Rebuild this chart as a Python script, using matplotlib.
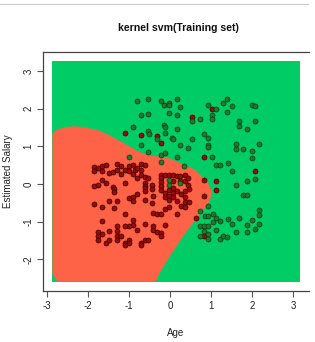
import matplotlib
matplotlib.use("Agg")
import matplotlib.pyplot as plt
from matplotlib.lines import Line2D

# ---------------- data ----------------
title = "kernel svm(Training set)"
x_label = "Age"
y_label = "Estimated Salary"
x_ticks = [-3, -2, -1, 0, 1, 2, 3]
y_ticks = [-2, -1, 0, 1, 2, 3]

# extent of the prediction grid
grid_x = [-2.87, 3.16]
grid_y = [-2.59, 3.27]

# boundary of the region predicted as class 0 (red)
boundary_x = [-2.87, -2.75, -2.55, -2.32, -2.10, -1.71, -1.39, -1.06, -0.78, -0.50,
              -0.09, 0.32, 0.60, 0.72, 0.85, 0.97, 1.02, 0.97, 0.89, 0.64,
              0.32, 0.00, -0.25, -0.35, -2.74, -2.80, -2.87]
boundary_y = [1.34, 1.44, 1.51, 1.53, 1.51, 1.41, 1.24, 1.04, 0.86, 0.75,
              0.71, 0.52, 0.38, 0.26, 0.12, -0.07, -0.22, -0.42, -0.58, -0.92,
              -1.38, -1.90, -2.35, -2.59, -2.59, -2.52, -2.37]

red_x = [-1.10, -0.71, -0.32, -0.23, 0.54, 1.01, 0.82, 0.82, 0.83, 0.62, 0.83, 1.11, 2.07, 1.11,
         -1.86, -1.76, -1.67, -1.57, -1.86, -1.67, -1.49, -1.39, -1.29, -1.29, -1.19, -1.19,
         -1.10, -1.00, -0.90, -0.86, -1.00, -0.80, -0.70, -0.70, -0.62, -0.90, -0.70, -0.80,
         -0.62, -0.62, -0.62, -1.67, -1.57, -1.76, -1.86, -1.39, -1.10,
         -1.37, -1.37, -0.62, -0.62, -1.00, -0.90, -0.80, -0.90, -1.49, -1.29, -1.86, -1.67,
         -1.37, -1.10, -1.67, -0.90, -0.90, -1.00, -1.10, -1.29, -0.80, -0.62, -1.76, -1.76,
         -1.67, -1.76, -1.49, -1.57, -1.49, -1.29, -1.29, -1.29, -1.19, -1.10, -1.00, -1.00,
         -1.10, -0.71, -0.62, -0.71, -0.54,
         -0.54, -0.23, -0.23, -0.23, -0.13, -0.03, 0.07, 0.07, 0.16, 0.25, 0.25, 0.36, 0.36,
         0.44, 0.44, -0.45, -0.45, -0.23, -0.23, -0.13, -0.13, -0.03, -0.03, 0.07, 0.07, 0.16,
         0.26, 0.36, 0.46, 0.36, 0.46, 0.26, 0.36, 0.16, -0.45, -0.62, -0.42, -0.32, -0.23,
         -0.13, -0.03, -0.13, -0.42, -0.42, -0.32, -0.23, -0.23, -0.41, 0.07, 0.36, 0.16, -0.03]
red_y = [1.35, 1.29, 1.26, 1.09, 1.77, 2.00, 0.72, 0.11, -0.33, -0.90, -1.37, 0.09, 0.35, -0.15,
         0.44, 0.42, 0.47, 0.50, 0.34, 0.34, 0.29, 0.32, 0.53, 0.38, 0.47, 0.27,
         0.38, 0.47, 0.51, 0.38, 0.34, 0.42, 0.53, 0.38, 0.51, 0.27, 0.25, 0.16,
         0.18, 0.03, -0.06, 0.11, 0.03, -0.02, -0.06, -0.09, 0.03,
         -0.13, -0.22, -0.11, -0.20, -0.37, -0.34, -0.28, -0.46, -0.46, -0.46, -0.52, -0.61,
         -0.64, -0.79, -0.99, -0.96, -1.08, -1.11, -1.11, -1.11, -1.21, -1.05, -1.28, -1.39,
         -1.34, -1.48, -1.26, -1.56, -1.49, -1.26, -1.39, -1.48, -1.39, -1.56, -1.48, -1.56,
         -1.61, -1.56, -1.49, -1.61, -1.49,
         0.16, 0.25, 0.16, 0.05, 0.23, 0.23, 0.23, 0.07, 0.20, 0.20, 0.07, 0.23, 0.07,
         0.16, -0.02, -0.02, -0.13, -0.06, -0.17, -0.24, -0.34, -0.31, -0.42, -0.24, -0.34, -0.19,
         -0.28, -0.19, -0.13, -0.49, -0.49, -0.58, -0.61, -0.81, -0.50, -0.43, -0.77, -0.79, -0.81,
         -0.66, -0.61, -1.08, -1.12, -1.21, -1.28, -1.30, -1.37, -0.31, -0.10, -0.35, -0.45, -0.15]

green_x = [-0.80, -0.54, -0.71, -0.54, -0.90, -0.54, -0.52, -0.71, -0.54, -1.01,
           -0.23, -0.15, -0.03, -0.03, 0.16, 0.25, -0.03, 0.16, 0.93, 1.01, 1.01, 0.54, 0.72,
           -0.15, -0.13, 0.16, -0.32, -0.13, 0.05, 0.07, 0.54, 0.82, 0.93, 0.93, 0.93, 0.25,
           0.44, -0.23, -0.13, 0.16, 1.01, -0.23, 0.34,
           -0.03, -0.03, 0.24,
           0.93, 0.72, 0.85, 1.05, 0.93, 0.72, 0.83, 0.93, 1.05, 0.72, 0.93, 0.93, 0.83,
           1.39, 1.29, 1.50, 1.39, 1.11, 1.99, 2.07, 1.68, 1.68, 1.88, 2.07, 1.60, 1.60, 1.78,
           2.16, 1.99, 1.99, 1.41, 1.11, 1.21, 1.50, 2.07, 1.88, 1.60,
           1.78, 1.88, 1.11, 1.21, 1.41, 1.50, 1.68, 1.88, 1.99, 2.16, 2.16, 2.16, 1.11, 1.60,
           1.88, 2.07, 1.21, 1.29, 1.39]
green_y = [2.19, 2.26, 1.84, 1.86, 1.50, 1.40, 1.33, 1.03, 0.85, 0.72,
           2.19, 2.10, 2.15, 2.09, 2.26, 2.03, 1.88, 1.82, 2.09, 1.84, 1.73, 1.66, 1.73,
           1.57, 1.52, 1.47, 1.18, 1.35, 1.22, 1.18, 1.18, 1.33, 1.22, 1.03, 0.97, 1.03,
           0.95, 0.78, 0.82, 0.72, 0.72, 0.58, 0.47,
           0.11, -0.02, 0.02,
           -0.58, -0.72, -0.84, -0.81, -0.84, -1.11, -1.11, -1.11, -1.02, -1.39, -1.34, -1.46, -1.25,
           2.26, 2.15, 2.06, 1.91, 2.00, 2.10, 2.06, 1.68, 1.55, 1.46, 1.68, 1.06, 0.94, 0.94,
           1.06, 0.87, 0.69, 0.56, 0.50, 0.50, 0.34, 0.14, 0.09, -0.02,
           -0.30, -0.30, -0.90, -0.99, -0.93, -1.05, -0.90, -1.08, -0.95, -0.70, -0.82, -1.05, -1.21, -1.27,
           -1.27, -1.19, -1.45, -1.37, -1.41]

# ---------------- style ----------------
REGION_GREEN = "#00CC66"
REGION_RED = "#FF6347"
PT_RED = "#9A0A0A"
PT_GREEN = "#1C7A2C"

plt.rcParams['font.family'] = ['Liberation Sans', 'DejaVu Sans']

fig = plt.figure(figsize=(3.15, 3.42), dpi=100)
ax = fig.add_axes([43/315, 1 - 291/342, (308.5 - 43)/315, (291 - 52)/342])

ax.fill([grid_x[0], grid_x[1], grid_x[1], grid_x[0]],
        [grid_y[0], grid_y[0], grid_y[1], grid_y[1]],
        color=REGION_GREEN, lw=0, zorder=1)
ax.fill(boundary_x, boundary_y, color=REGION_RED, lw=0, zorder=2)

ax.scatter(red_x, red_y, s=13, c=PT_RED, edgecolors="#3a0000", linewidths=0.5, zorder=3)
ax.scatter(green_x, green_y, s=13, c=PT_GREEN, edgecolors="#0a3a14", linewidths=0.5, zorder=3)

ax.set_xlim(-3.10, 3.37)
ax.set_ylim(-2.84, 3.50)
ax.set_xticks(x_ticks)
ax.set_yticks(y_ticks)
ax.set_xticklabels([str(t) for t in x_ticks], fontsize=7, color="#222222")
ax.set_yticklabels([str(t) for t in y_ticks], fontsize=7, color="#222222",
                   rotation=90, va="center")
ax.tick_params(axis="both", length=4, width=0.8, color="#555555", pad=3)
for sp in ax.spines.values():
    sp.set_color("#444444")
    sp.set_linewidth(0.9)
ax.spines["right"].set_visible(False)

fig.text(178/315, 1 - 28/342, title, ha="center", va="center",
         fontsize=7.6, fontweight="bold", color="#111111")
fig.text(176/315, 1 - 333/342, x_label, ha="center", va="center",
         fontsize=7, color="#222222")
fig.text(8.5/315, 1 - 171/342, y_label, ha="center", va="center",
         fontsize=7, color="#222222", rotation=90)

# screenshot frame line
fig.add_artist(Line2D([0, 308/315], [1 - 3.5/342, 1 - 3.5/342], color="#cccccc", lw=0.8))

fig.savefig("out.png", dpi=100)
